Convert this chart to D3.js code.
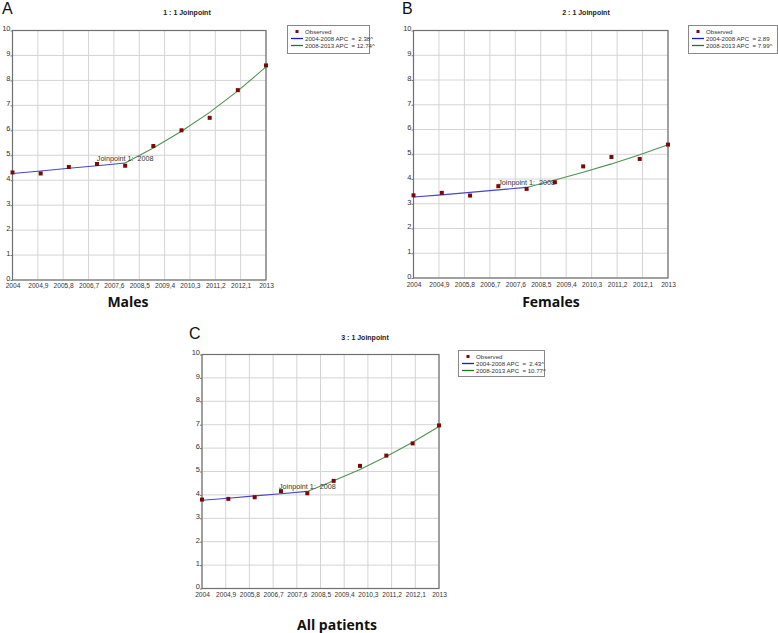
<!DOCTYPE html>
<html>
<head>
<meta charset="utf-8">
<script src="https://cdn.jsdelivr.net/npm/d3@7"></script>
<style>
  html, body { margin: 0; padding: 0; background: #fff; }
  svg { display: block; }
  svg text { white-space: pre; }
</style>
</head>
<body>
<svg id="chart" width="778" height="633"></svg>
<script>
// ---- data ----
const years = [2004, 2005, 2006, 2007, 2008, 2009, 2010, 2011, 2012, 2013];
const xTickValues = [2004, 2004.9, 2005.8, 2006.7, 2007.6, 2008.5, 2009.4, 2010.3, 2011.2, 2012.1, 2013];
const xTickLabels = ["2004", "2004,9", "2005,8", "2006,7", "2007,6", "2008,5", "2009,4", "2010,3", "2011,2", "2012,1", "2013"];
const yTickValues = [0, 1, 2, 3, 4, 5, 6, 7, 8, 9, 10];

const malesObserved = [4.31, 4.27, 4.53, 4.65, 4.58, 5.37, 6.00, 6.50, 7.61, 8.60];
const malesFitted   = [4.27, 4.37, 4.48, 4.58, 4.69, 5.29, 5.96, 6.72, 7.58, 8.54];
const femalesObserved = [3.34, 3.44, 3.33, 3.71, 3.60, 3.87, 4.51, 4.89, 4.81, 5.39];
const femalesFitted   = [3.27, 3.36, 3.46, 3.56, 3.66, 3.96, 4.27, 4.61, 4.98, 5.38];
const allObserved = [3.80, 3.83, 3.90, 4.16, 4.07, 4.60, 5.24, 5.68, 6.20, 6.97];
const allFitted   = [3.77, 3.86, 3.96, 4.05, 4.15, 4.60, 5.09, 5.64, 6.25, 6.92];

const joinpointYear = 2008;
const panelLetters = ["A", "B", "C"];
const panelTitles = ["1 : 1 Joinpoint", "2 : 1 Joinpoint", "3 : 1 Joinpoint"];
const panelCaptions = ["Males", "Females", "All patients"];
const legendSeg1 = ["2004-2008 APC  =  2.38^", "2004-2008 APC  = 2.89", "2004-2008 APC  =  2.43^"];
const legendSeg2 = ["2008-2013 APC  = 12.74^", "2008-2013 APC  = 7.99^", "2008-2013 APC  = 10.77^"];

// ---- layout ----
const panels = [
  { obs: malesObserved, fit: malesFitted, px0: 12.5, px1: 266, py0: 30.5, py1: 280,
    lg: [287, 25, 82, 28], letter: [2, 14], title: [187, 14.5], cap: [128, 307], tickY: 289 },
  { obs: femalesObserved, fit: femalesFitted, px0: 413.5, px1: 668, py0: 30.5, py1: 278,
    lg: [688, 25, 89, 28], letter: [402, 14], title: [586, 14.5], cap: [551, 307], tickY: 288 },
  { obs: allObserved, fit: allFitted, px0: 202, px1: 439, py0: 354.5, py1: 588.5,
    lg: [458, 350, 86, 26], letter: [189, 339], title: [365, 339.5], cap: [337, 630], tickY: 598 }
];

const svg = d3.select("#chart");
const smallFont = "'Liberation Sans Narrow', 'Arial Narrow', 'Liberation Sans', Arial, sans-serif";

panels.forEach((p, i) => {
  const g = svg.append("g");
  const x = d3.scaleLinear().domain([2004, 2013]).range([p.px0, p.px1]);
  const y = d3.scaleLinear().domain([0, 10]).range([p.py1, p.py0]);

  // grid
  g.append("g").selectAll("line").data(xTickValues).join("line")
    .attr("x1", d => x(d)).attr("x2", d => x(d))
    .attr("y1", p.py0).attr("y2", p.py1)
    .attr("stroke", "#d4d4d4").attr("stroke-width", 1);
  g.append("g").selectAll("line").data(yTickValues).join("line")
    .attr("x1", p.px0).attr("x2", p.px1)
    .attr("y1", d => y(d)).attr("y2", d => y(d))
    .attr("stroke", "#d4d4d4").attr("stroke-width", 1);

  // axes (ticks + labels)
  const yAxis = d3.axisLeft(y).tickValues(yTickValues).tickSize(2).tickPadding(0).tickFormat(d3.format("d"));
  const ya = g.append("g").attr("transform", `translate(${p.px0},0)`).call(yAxis);
  ya.select(".domain").remove();
  ya.selectAll("line").attr("stroke", "#777");
  ya.selectAll("text").attr("font-family", smallFont).attr("font-size", 7.5).attr("fill", "#333").attr("dy", "0.05em");

  const xAxis = d3.axisBottom(x).tickValues(xTickValues).tickSize(0).tickPadding(0)
    .tickFormat((d, k) => xTickLabels[k]);
  const xa = g.append("g").attr("transform", `translate(0,${p.tickY - 6})`).call(xAxis);
  xa.select(".domain").remove();
  xa.selectAll("text").attr("font-family", smallFont).attr("font-size", 6.6).attr("fill", "#333");

  // plot border
  g.append("rect").attr("x", p.px0).attr("y", p.py0)
    .attr("width", p.px1 - p.px0).attr("height", p.py1 - p.py0)
    .attr("fill", "none").attr("stroke", "#707070").attr("stroke-width", 1.2);

  // fitted lines
  const jIdx = years.indexOf(joinpointYear);
  const line = d3.line().x(d => x(d[0])).y(d => y(d[1]));
  const seg1 = years.slice(0, jIdx + 1).map((yr, k) => [yr, p.fit[k]]);
  const seg2 = years.slice(jIdx).map((yr, k) => [yr, p.fit[jIdx + k]]);
  g.append("path").attr("d", line(seg1)).attr("fill", "none").attr("stroke", "#4646c8").attr("stroke-width", 1.1);
  g.append("path").attr("d", line(seg2)).attr("fill", "none").attr("stroke", "#4f9350").attr("stroke-width", 1.1);

  // joinpoint label
  g.append("text").attr("x", x(joinpointYear)).attr("y", y(p.fit[jIdx]) - 2)
    .attr("text-anchor", "middle").attr("font-family", smallFont).attr("font-size", 7.2)
    .attr("fill", "#333").text("Joinpoint 1:  " + joinpointYear);

  // observed markers
  g.append("g").selectAll("rect").data(years).join("rect")
    .attr("x", (d) => x(d) - 2).attr("y", (d, k) => y(p.obs[k]) - 2)
    .attr("width", 4).attr("height", 4).attr("fill", "#7a0a0a");

  // legend
  const [lx, ly, lw, lh] = p.lg;
  const lg = g.append("g");
  lg.append("rect").attr("x", lx + 0.5).attr("y", ly + 0.5).attr("width", lw).attr("height", lh)
    .attr("fill", "#fff").attr("stroke", "#888").attr("stroke-width", 1);
  lg.append("rect").attr("x", lx + 8.5).attr("y", ly + 5).attr("width", 3).attr("height", 3).attr("fill", "#7a0a0a");
  const rows = [["Observed", null], [legendSeg1[i], "#1a1acc"], [legendSeg2[i], "#1f7a22"]];
  rows.forEach((r, k) => {
    const ry = ly + 6.5 + k * 7;
    if (r[1]) {
      lg.append("line").attr("x1", lx + 4).attr("x2", lx + 16).attr("y1", ry).attr("y2", ry)
        .attr("stroke", r[1]).attr("stroke-width", 1.3);
    }
    lg.append("text").attr("x", lx + 18).attr("y", ry + 2.3)
      .attr("font-family", smallFont).attr("font-size", 6.1).attr("fill", "#333").text(r[0]);
  });

  // title
  g.append("text").attr("x", p.title[0]).attr("y", p.title[1]).attr("text-anchor", "middle")
    .attr("font-family", "'Liberation Sans', Arial, sans-serif").attr("font-weight", "bold")
    .attr("font-size", 7).attr("fill", "#222").text(panelTitles[i]);

  // panel letter
  g.append("text").attr("x", p.letter[0]).attr("y", p.letter[1])
    .attr("font-family", "'Liberation Sans', Arial, sans-serif").attr("font-size", 16)
    .attr("fill", "#111").text(panelLetters[i]);

  // caption
  g.append("text").attr("x", p.cap[0]).attr("y", p.cap[1]).attr("text-anchor", "middle")
    .attr("font-family", "'Open Sans', 'Liberation Sans', Arial, sans-serif").attr("font-weight", "bold")
    .attr("font-size", 14).attr("fill", "#111").text(panelCaptions[i]);
});
</script>
</body>
</html>
